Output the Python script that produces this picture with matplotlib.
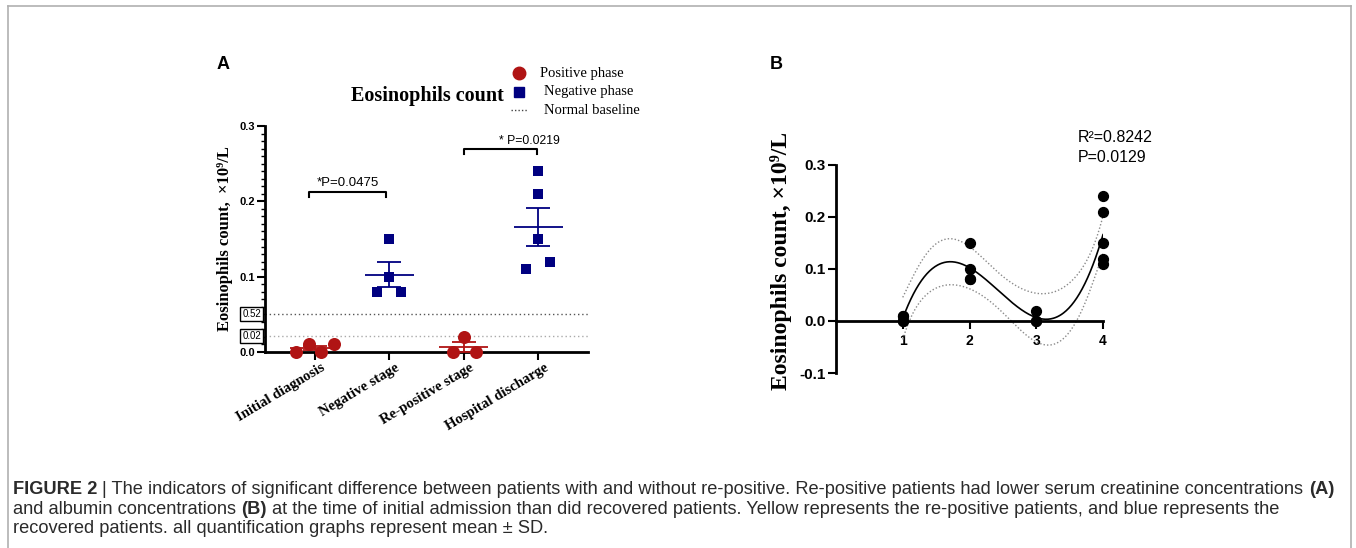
import numpy as np
import matplotlib
matplotlib.use('Agg')
import matplotlib.pyplot as plt
from matplotlib import font_manager
from matplotlib.lines import Line2D
from matplotlib.ticker import MultipleLocator
import matplotlib.transforms as mtransforms

# Eosinophils count (x10^9/L) per stage
categories = ['Initial diagnosis', 'Negative stage', 'Re-positive stage', 'Hospital discharge']
initial_diagnosis = [0.0, 0.01, 0.0, 0.01]
negative_stage = [0.15, 0.10, 0.08, 0.08]
repositive_stage = [0.0, 0.02, 0.0]
hospital_discharge = [0.24, 0.21, 0.15, 0.11, 0.12]

baseline_labels = ['0.52', '0.02']
baseline_values = [0.051, 0.021]

p_labels = ['*P=0.0475', '* P=0.0219']
fit_labels = ['R\u00b2=0.8242', 'P=0.0129']

groups = [initial_diagnosis, negative_stage, repositive_stage, hospital_discharge]

W, H = 1356, 548
plt.rcParams['font.family'] = ['Liberation Sans', 'DejaVu Sans']
plt.rcParams['axes.unicode_minus'] = False
SERIF = ['Liberation Serif', 'DejaVu Serif']
RED = '#b01414'
BLUE = '#000080'

fig = plt.figure(figsize=(W / 100, H / 100), dpi=100)


def fx(px):
    return px / W


def fy(py):
    return 1 - py / H


# frame around the figure
for xs_, ys_ in [([8, 8], [548, 6]), ([8, 1351], [6, 6]), ([1351, 1351], [6, 548])]:
    fig.add_artist(Line2D([fx(v) for v in xs_], [fy(v) for v in ys_],
                          color='#b0b0b0', lw=1.2, transform=fig.transFigure))

# ---------------- Panel A ----------------
axA = fig.add_axes([fx(265), fy(352), fx(588) - fx(265), fy(126) - fy(352)])
jitter = [[-0.26, -0.08, 0.08, 0.26], [0, 0, -0.16, 0.16], [-0.15, 0, 0.16], [0, 0, 0, -0.16, 0.16]]

for i, (vals, jit) in enumerate(zip(groups, jitter)):
    vals = np.array(vals)
    pos = (i % 2 == 0)
    col = RED if pos else BLUE
    axA.scatter(i + np.array(jit), vals, marker='o' if pos else 's', s=88 if pos else 62,
                color=col, linewidths=0, zorder=3, clip_on=False)
    m = vals.mean()
    sem = vals.std(ddof=1) / np.sqrt(len(vals))
    axA.hlines(m, i - 0.33, i + 0.33, color=col, lw=1.3, zorder=4)
    axA.errorbar(i, m, yerr=sem, color=col, capsize=8.6, lw=1.3, capthick=1.3, zorder=4)

for v, c in zip(baseline_values, ['#555555', '#aaaaaa']):
    axA.axhline(v, color=c, ls=(0, (1, 2)), lw=1, zorder=1)

trans = mtransforms.blended_transform_factory(axA.transAxes, axA.transData)
for lab, v in zip(baseline_labels, baseline_values):
    axA.text(-0.012, v, lab, transform=trans, ha='right', va='center', fontsize=7,
             bbox=dict(boxstyle='square,pad=0.2', fc='white', ec='black', lw=1),
             zorder=6, clip_on=False)

# significance brackets
axA.plot([-0.08, -0.08, 0.95, 0.95], [0.206, 0.212, 0.212, 0.206], color='black', lw=1.5, clip_on=False)
axA.text(0.44, 0.217, p_labels[0], ha='center', va='bottom', fontsize=9.5)
axA.plot([2.0, 2.0, 2.98, 2.98], [0.263, 0.269, 0.269, 0.263], color='black', lw=1.5, clip_on=False)
axA.text(2.88, 0.272, p_labels[1], ha='center', va='bottom', fontsize=8.8)

axA.set_xlim(-0.67, 3.67)
axA.set_ylim(0, 0.3)
axA.yaxis.set_major_locator(MultipleLocator(0.1))
axA.yaxis.set_minor_locator(MultipleLocator(0.01))
axA.set_xticks(range(len(categories)))
axA.set_xticklabels(categories, rotation=31, ha='right', va='top', rotation_mode='anchor',
                    family=SERIF, fontweight='bold', fontsize=10.6)
axA.tick_params(axis='both', which='major', length=6, width=1.5)
axA.tick_params(axis='y', which='minor', length=3, width=1)
axA.tick_params(axis='y', labelsize=8, pad=1)
axA.tick_params(axis='x', pad=0.5)
shift = mtransforms.ScaledTranslation(6 / 100, 0, fig.dpi_scale_trans)
for lab in axA.get_xticklabels():
    lab.set_transform(lab.get_transform() + shift)
for lab in axA.get_yticklabels():
    lab.set_fontweight('bold')
for s in ['top', 'right']:
    axA.spines[s].set_visible(False)
for s in ['left', 'bottom']:
    axA.spines[s].set_linewidth(2)
axA.set_ylabel('Eosinophils count,  \u00d710\u2079/L', family=SERIF, fontweight='bold', fontsize=12)
axA.yaxis.set_label_coords(-0.1, 0.5)

# title and legend of panel A
fig.text(fx(351), fy(96), 'Eosinophils count', family=SERIF, fontweight='bold', fontsize=14.5,
         ha='left', va='center')
fig.add_artist(Line2D([fx(519)], [fy(73)], marker='o', ms=9, color=RED, lw=0, transform=fig.transFigure))
fig.add_artist(Line2D([fx(519)], [fy(92)], marker='s', ms=7.5, color=BLUE, lw=0, transform=fig.transFigure))
fig.add_artist(Line2D([fx(511), fx(528)], [fy(110), fy(110)], color='#444444', ls=(0, (1, 1.5)), lw=1,
                      transform=fig.transFigure))
for txt, x0, y0 in [('Positive phase', 540, 73), ('Negative phase', 544, 92), ('Normal baseline', 544, 110)]:
    fig.text(fx(x0), fy(y0), txt, family=SERIF, fontsize=10.5, ha='left', va='center')

# ---------------- Panel B ----------------
axB = fig.add_axes([fx(836), fy(373), fx(1103) - fx(836), fy(165) - fy(373)])
xb = np.concatenate([[i + 1] * len(g) for i, g in enumerate(groups)]).astype(float)
yb = np.concatenate(groups)
axB.scatter(xb, yb, s=50, color='black', zorder=3, clip_on=False)

# third order polynomial fit with 95% confidence band
X = np.vander(xb, 4)
coef, *_ = np.linalg.lstsq(X, yb, rcond=None)
resid = yb - X @ coef
dof = len(yb) - 4
cov = (resid @ resid / dof) * np.linalg.inv(X.T @ X)
xs = np.linspace(1, 4, 300)
Xs = np.vander(xs, 4)
fit = Xs @ coef
se = np.sqrt(np.sum((Xs @ cov) * Xs, axis=1))
tcrit = 2.179
axB.plot(xs, fit, color='black', lw=1.2, zorder=2)
axB.plot(xs, fit + tcrit * se, color='#8a8a8a', ls=(0, (1, 1.5)), lw=1, zorder=2)
axB.plot(xs, fit - tcrit * se, color='#8a8a8a', ls=(0, (1, 1.5)), lw=1, zorder=2)

axB.set_xlim(0, 4)
axB.set_ylim(-0.1, 0.3)
axB.spines['bottom'].set_position(('data', 0))
for s in ['top', 'right']:
    axB.spines[s].set_visible(False)
for s in ['left', 'bottom']:
    axB.spines[s].set_linewidth(2)
axB.set_xticks([1, 2, 3, 4])
axB.yaxis.set_major_locator(MultipleLocator(0.1))
axB.tick_params(axis='both', length=6, width=1.5, labelsize=11)
axB.tick_params(axis='x', labelsize=10)
axB.tick_params(axis='y', pad=1.5)
for lab in axB.get_xticklabels() + axB.get_yticklabels():
    lab.set_fontweight('bold')
axB.set_ylabel('Eosinophils count, \u00d710\u2079/L', family=SERIF, fontweight='bold', fontsize=17)
axB.yaxis.set_label_coords(-0.165, 0.54)

fig.text(fx(1078), fy(137), fit_labels[0], fontsize=11.5, ha='left', va='center')
fig.text(fx(1078), fy(157), fit_labels[1], fontsize=11.5, ha='left', va='center')

# panel letters
fig.text(fx(217), fy(65), 'A', fontsize=13, fontweight='bold', ha='left', va='center')
fig.text(fx(770), fy(65), 'B', fontsize=13, fontweight='bold', ha='left', va='center')

# ---------------- caption ----------------
try:
    font_manager.findfont('Liberation Sans Narrow', fallback_to_default=False)
    CAP = ['Liberation Sans Narrow', 'DejaVu Sans']
except Exception:
    CAP = ['Liberation Sans', 'DejaVu Sans']

caption = [
    [('FIGURE 2', 'bold'), (' | The indicators of significant difference between patients with and without '
                            're-positive. Re-positive patients had lower serum creatinine concentrations ', 'normal'),
     ('(A)', 'bold')],
    [('and albumin concentrations ', 'normal'), ('(B)', 'bold'),
     (' at the time of initial admission than did recovered patients. Yellow represents the re-positive '
      'patients, and blue represents the', 'normal')],
    [('recovered patients. all quantification graphs represent mean \u00b1 SD.', 'normal')],
]
baselines = [494, 514, 533]
renderer = fig.canvas.get_renderer()


def draw_caption(size):
    arts = []
    probe = fig.text(0, 0, 'a a', fontsize=size, family=CAP)
    probe2 = fig.text(0, 0, 'aa', fontsize=size, family=CAP)
    sw = probe.get_window_extent(renderer).width - probe2.get_window_extent(renderer).width
    probe.remove()
    probe2.remove()
    widths = []
    for parts, b in zip(caption, baselines):
        x = 13.0
        for txt, wt in parts:
            lead = len(txt) - len(txt.lstrip(' '))
            trail = len(txt) - len(txt.rstrip(' '))
            x += lead * sw
            t = fig.text(fx(x), fy(b), txt.strip(), fontsize=size, fontweight=wt, family=CAP,
                         color='#2b2b2b', va='baseline', ha='left')
            arts.append(t)
            x += t.get_window_extent(renderer).width + trail * sw
        widths.append(x - 13.0)
    return arts, widths


arts, widths = draw_caption(12)
for a in arts:
    a.remove()
size = 12 * 1322 / widths[0]
draw_caption(size)

fig.savefig('out.png', dpi=100)
